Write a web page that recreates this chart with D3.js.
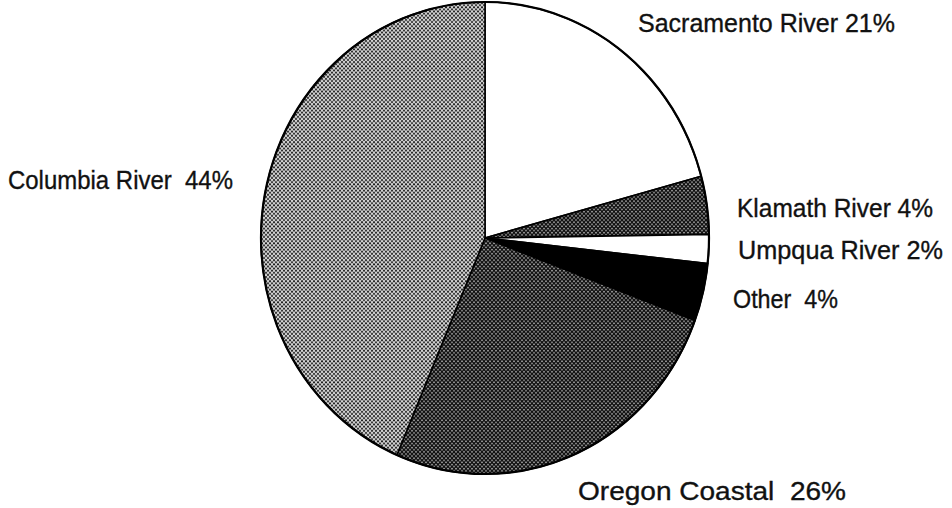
<!DOCTYPE html>
<html>
<head>
<meta charset="utf-8">
<script src="https://cdn.jsdelivr.net/npm/d3@7"></script>
<style>
  html, body { margin: 0; padding: 0; background: #fff; }
  svg { display: block; }
  text { font-family: "Liberation Sans", Arial, Helvetica, sans-serif; fill: #111; white-space: pre; }
</style>
</head>
<body>
<svg id="chart" width="952" height="508"></svg>
<script>
// Salmon catch share by stock of origin
const categories = ["Sacramento River", "Klamath River", "Umpqua River", "Other", "Oregon Coastal", "Columbia River"];
const values = [21, 4, 2, 4, 26, 44];
const labels = ["Sacramento River 21%", "Klamath River 4%", "Umpqua River 2%", "Other  4%", "Oregon Coastal  26%", "Columbia River  44%"];
const fills = ["white", "url(#darkDots)", "white", "#000", "url(#darkDots)", "url(#lightDots)"];

// label placement: left x, baseline y, text width
const labelLayout = [
  { x: 638, y: 32, w: 257 },
  { x: 737, y: 217, w: 196 },
  { x: 738, y: 259, w: 205 },
  { x: 733, y: 308, w: 105 },
  { x: 578, y: 500, w: 268 },
  { x: 8,   y: 189, w: 225 }
];

const svg = d3.select("#chart");
const defs = svg.append("defs");

function dotPattern(id, bg, dot, r) {
  const p = defs.append("pattern")
    .attr("id", id)
    .attr("patternUnits", "userSpaceOnUse")
    .attr("width", 4).attr("height", 4);
  p.append("rect").attr("width", 4).attr("height", 4).attr("fill", bg);
  p.append("circle").attr("cx", 1).attr("cy", 1).attr("r", r).attr("fill", dot);
  p.append("circle").attr("cx", 3).attr("cy", 3).attr("r", r).attr("fill", dot);
}
dotPattern("lightDots", "#d2d2d2", "#111", 0.95);
dotPattern("darkDots", "#111", "#d0d0d0", 0.75);

const cx = 485, cy = 238, rx = 224, ry = 236;

const pie = d3.pie().sort(null).value(d => d.value);
const arc = d3.arc().innerRadius(0).outerRadius(rx);

const data = categories.map((c, i) => ({ name: c, value: values[i], fill: fills[i] }));

const g = svg.append("g")
  .attr("transform", `translate(${cx},${cy}) scale(1,${ry / rx})`);

g.selectAll("path.slice")
  .data(pie(data))
  .join("path")
  .attr("class", "slice")
  .attr("d", arc)
  .attr("fill", d => d.data.fill)
  .attr("stroke", "#000")
  .attr("stroke-width", 1.6)
  .attr("stroke-linejoin", "round")
  .attr("vector-effect", "non-scaling-stroke");

// outer rim
g.append("circle")
  .attr("r", rx)
  .attr("fill", "none")
  .attr("stroke", "#000")
  .attr("stroke-width", 2.2)
  .attr("vector-effect", "non-scaling-stroke");

svg.selectAll("text.label")
  .data(labels)
  .join("text")
  .attr("class", "label")
  .attr("x", (d, i) => labelLayout[i].x)
  .attr("y", (d, i) => labelLayout[i].y)
  .attr("font-size", 26)
  .attr("stroke", "#111")
  .attr("stroke-width", 0.35)
  .attr("textLength", (d, i) => labelLayout[i].w)
  .attr("lengthAdjust", "spacingAndGlyphs")
  .text(d => d);
</script>
</body>
</html>
